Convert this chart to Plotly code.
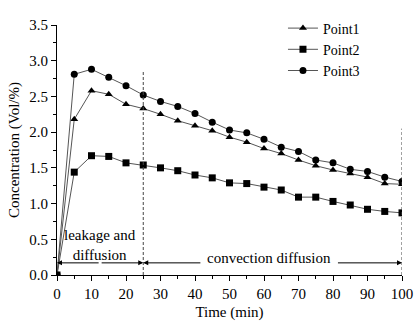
import plotly.graph_objects as go

time_min = [0, 5, 10, 15, 20, 25, 30, 35, 40, 45, 50, 55, 60, 65, 70, 75, 80, 85, 90, 95, 100]
point1 = [0, 2.18, 2.58, 2.53, 2.39, 2.33, 2.25, 2.16, 2.09, 2.02, 1.93, 1.86, 1.77, 1.70, 1.61, 1.53, 1.47, 1.42, 1.37, 1.28, 1.27]
point2 = [0, 1.44, 1.67, 1.66, 1.57, 1.54, 1.50, 1.46, 1.40, 1.36, 1.29, 1.28, 1.23, 1.19, 1.09, 1.09, 1.03, 0.98, 0.92, 0.89, 0.87]
point3 = [0, 2.81, 2.88, 2.77, 2.65, 2.52, 2.43, 2.36, 2.26, 2.14, 2.03, 1.99, 1.90, 1.79, 1.73, 1.61, 1.57, 1.48, 1.45, 1.37, 1.31]

series = [("Point1", point1, "triangle-up"), ("Point2", point2, "square"), ("Point3", point3, "circle")]

FONT = "Liberation Serif"

fig = go.Figure()
for name, vals, sym in series:
    fig.add_trace(go.Scatter(
        x=time_min, y=vals, name=name, mode="lines+markers",
        line=dict(color="#555555", width=1),
        marker=dict(symbol=sym, size=7, color="black"),
    ))

# vertical dashed separators
fig.add_shape(type="line", x0=25, x1=25, y0=0, y1=2.86, xref="x", yref="y",
              line=dict(color="#444444", width=1, dash="3px,2px"))
fig.add_shape(type="line", x0=100, x1=100, y0=0, y1=2.05, xref="x", yref="y",
              line=dict(color="#444444", width=1, dash="3px,2px"))

arrow_y = 0.17
arrows = [(0, 12.5), (25, 12.5), (25, 42), (100, 81)]
for head, tail in arrows:
    fig.add_annotation(x=head, y=arrow_y, ax=tail, ay=arrow_y, xref="x", yref="y",
                       axref="x", ayref="y", text="", showarrow=True,
                       arrowhead=2, arrowsize=1, arrowwidth=1, arrowcolor="black")

fig.add_annotation(x=12.5, y=0.42, xref="x", yref="y", text="leakage and<br>diffusion",
                   showarrow=False, font=dict(family=FONT, size=15, color="black"))
fig.add_annotation(x=61.5, y=0.24, xref="x", yref="y", text="convection diffusion",
                   showarrow=False, font=dict(family=FONT, size=15, color="black"))

fig.update_layout(
    width=416, height=324,
    margin=dict(l=57, r=14, t=16, b=49),
    plot_bgcolor="white", paper_bgcolor="white",
    font=dict(family=FONT, size=15, color="black"),
    showlegend=True,
    legend=dict(x=0.655, y=1.05, xanchor="left", yanchor="top",
                bgcolor="rgba(0,0,0,0)", font=dict(family=FONT, size=14),
                tracegroupgap=0, itemwidth=30),
)
fig.update_xaxes(
    range=[0, 100], tickmode="linear", tick0=0, dtick=10, automargin=False,
    showline=True, linecolor="black", linewidth=1, mirror=False,
    ticks="outside", ticklen=5, tickcolor="black",
    minor=dict(ticks="outside", ticklen=3, dtick=5, tickcolor="black"),
    showgrid=False, zeroline=False,
    title=dict(text="Time (min)", font=dict(family=FONT, size=15), standoff=5),
    tickfont=dict(family=FONT, size=15),
)
fig.update_yaxes(
    range=[0, 3.5], tickmode="linear", tick0=0, dtick=0.5, tickformat=".1f", automargin=False,
    showline=True, linecolor="black", linewidth=1, mirror=False,
    ticks="outside", ticklen=5, tickcolor="black",
    minor=dict(ticks="outside", ticklen=3, dtick=0.25, tickcolor="black"),
    showgrid=False, zeroline=False,
    title=dict(text="Concentration (Vol/%)", font=dict(family=FONT, size=15), standoff=6),
    tickfont=dict(family=FONT, size=15),
)

fig.write_html("out.html", config={"displayModeBar": False},
               post_script="document.body.style.margin='0';")
